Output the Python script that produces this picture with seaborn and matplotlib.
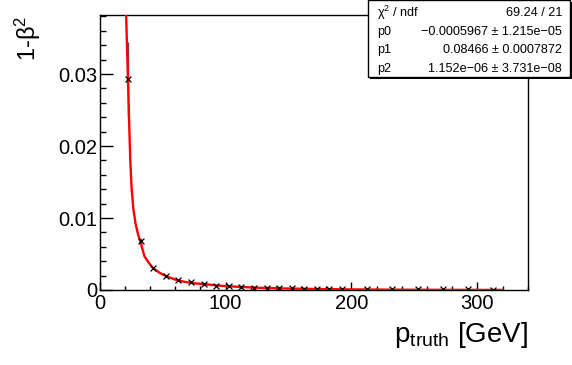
import matplotlib
matplotlib.use('agg')
import matplotlib.pyplot as plt
from matplotlib.ticker import MultipleLocator
import seaborn as sns
import pandas as pd

# measured points
p_truth = [22.5, 32.5, 42.5, 52.5, 62.5, 72.5, 82.5, 92.5, 102.5, 112.5,
           122.5, 132.5, 142.5, 152.5, 162.5, 172.5, 182.5, 192.5,
           212.5, 232.5, 252.5, 272.5, 292.5, 312.5]
one_minus_beta2 = [0.0293, 0.0068, 0.0030, 0.0019, 0.0014, 0.00105, 0.0008,
                   0.00062, 0.0005, 0.0004, 0.00034, 0.0003, 0.00026, 0.00023,
                   0.0002, 0.00018, 0.00016, 0.00014, 0.00012, 0.0001,
                   0.00009, 0.00008, 0.00007, 0.00006]
y_err = [0.0052, 0.0004, 0.00012, 0.00006, 0.00004, 0.00003, 0.00002, 0.00002,
         0.00001, 0.00001, 0.00001, 0.00001, 0.00001, 0.00001, 0.00001,
         0.00001, 0.00001, 0.00001, 0.00001, 0.00001, 0.00001, 0.00001,
         0.00001, 0.00001]

# fitted curve
fit_x = [20.6, 21.5, 22.5, 23.4, 24.3, 25.3, 26.7, 28.5, 30.5, 32.5, 35.5,
         38.5, 42.5, 47.5, 53, 60, 67, 75, 85, 95, 110, 127.5, 150, 175, 200,
         240, 280, 320]
fit_y = [0.0410, 0.0350, 0.0290, 0.0232, 0.0180, 0.0143, 0.0113, 0.0092,
         0.0077, 0.0066, 0.0047, 0.0039, 0.0030, 0.0024, 0.0019, 0.00145,
         0.00115, 0.00094, 0.00078, 0.00060, 0.00044, 0.00030, 0.00020,
         0.00013, 0.00008, 0.00004, 0.00002, 0.00001]

stat_names = ['χ$^{2}$ / ndf', 'p0', 'p1', 'p2']
stat_values = ['69.24 / 21', '−0.0005967 ± 1.215e−05',
               '0.08466 ± 0.0007872', '1.152e−06 ± 3.731e−08']

if __name__ == '__main__':
    sns.set_style('ticks')
    plt.rcParams['font.family'] = ['Liberation Sans', 'DejaVu Sans']
    plt.rcParams['mathtext.default'] = 'regular'
    plt.rcParams['text.color'] = 'black'
    plt.rcParams['axes.labelcolor'] = 'black'

    pts = pd.DataFrame({'p': p_truth, 'y': one_minus_beta2})
    fit = pd.DataFrame({'p': fit_x, 'y': fit_y})

    fig = plt.figure(figsize=(5.72, 3.65), dpi=100)
    ax = fig.add_axes([0.1743, 0.2055, 0.7483, 0.7534])

    ax.errorbar(p_truth, one_minus_beta2, yerr=y_err, fmt='none',
                ecolor='#555555', elinewidth=1, capsize=0, zorder=2)
    sns.lineplot(data=fit, x='p', y='y', color='#ff0000', linewidth=1.7,
                 sort=False, estimator=None, ax=ax, zorder=3)
    sns.scatterplot(data=pts, x='p', y='y', marker='x', color='black',
                    s=18, linewidth=0.9, ax=ax, zorder=4)

    ax.set_xlim(0, 340)
    ax.set_ylim(0, 0.0382)
    ax.xaxis.set_major_locator(MultipleLocator(100))
    ax.xaxis.set_minor_locator(MultipleLocator(20))
    ax.yaxis.set_major_locator(MultipleLocator(0.01))
    ax.yaxis.set_minor_locator(MultipleLocator(0.002))
    ax.yaxis.set_major_formatter(matplotlib.ticker.FuncFormatter(
        lambda v, _: '0' if abs(v) < 1e-9 else '%.2f' % v))
    ax.xaxis.set_major_formatter(matplotlib.ticker.FuncFormatter(
        lambda v, _: '%d' % round(v)))

    ax.tick_params(axis='both', which='both', direction='in', labelsize=14.5,
                   colors='black', width=1)
    ax.tick_params(axis='y', which='major', length=9.5, pad=2)
    ax.tick_params(axis='y', which='minor', length=4.5)
    ax.tick_params(axis='x', which='major', length=6, pad=3)
    ax.tick_params(axis='x', which='minor', length=3)
    for s in ax.spines.values():
        s.set_linewidth(1)
        s.set_color('black')

    ax.set_xlabel('p$_{truth}$ [GeV]', fontsize=20)
    ax.set_ylabel('')
    ax.xaxis.set_label_coords(1.0, -0.11)
    ax.xaxis.label.set_horizontalalignment('right')
    ax.xaxis.label.set_verticalalignment('top')
    fig.text(28 / 572, 1 - 16 / 365, '1-β$^{2}$', rotation=90,
             rotation_mode='default', ha='center', va='top', fontsize=17)

    # stats box
    bx0, by0, bx1, by1 = 368 / 572, 1 - 77 / 365, 570 / 572, 1.0
    fig.patches.append(plt.Rectangle((bx0 + 0.003, by0 - 0.005), bx1 - bx0,
                                     by1 - by0, transform=fig.transFigure,
                                     facecolor='black', edgecolor='none',
                                     zorder=5))
    fig.patches.append(plt.Rectangle((bx0, by0), bx1 - bx0, by1 - by0,
                                     transform=fig.transFigure,
                                     facecolor='white', edgecolor='black',
                                     linewidth=1, zorder=6))
    row_y = [13.3, 31.7, 50, 69]
    for name, val, ry in zip(stat_names, stat_values, row_y):
        fy = 1 - ry / 365
        fig.text(377 / 572, fy, name, ha='left', va='center', fontsize=9.1,
                 zorder=7)
        fig.text(562 / 572, fy, val, ha='right', va='center', fontsize=9.1,
                 zorder=7)

    fig.savefig('out.png', dpi=100)
